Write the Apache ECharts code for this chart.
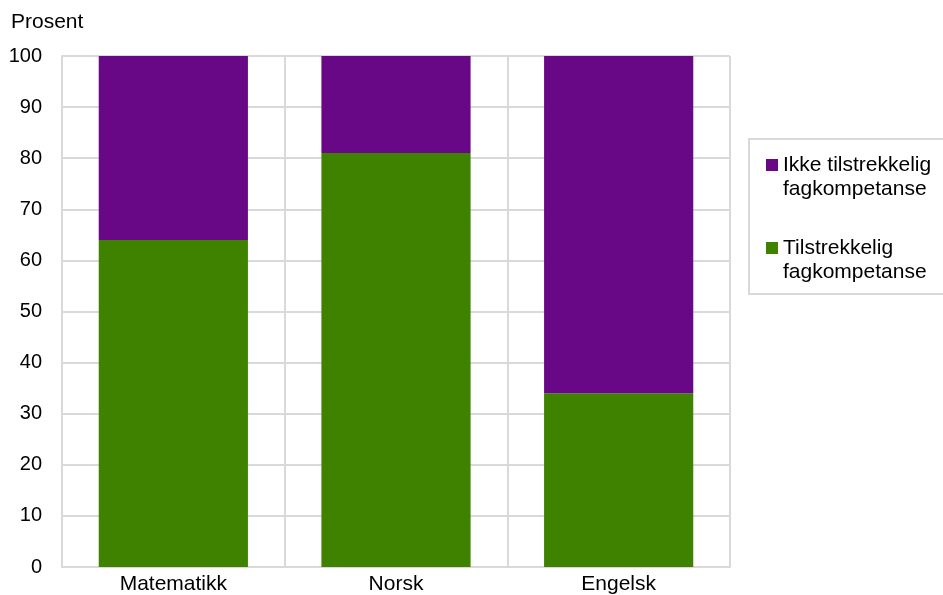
<!DOCTYPE html>
<html><head><meta charset="utf-8">
<script src="https://cdn.jsdelivr.net/npm/echarts@6/dist/echarts.min.js"></script>
<style>html,body{margin:0;padding:0;background:#fff}#c{width:943px;height:595px}</style>
</head><body><div id="c"></div>
<script>
var categories = ['Matematikk', 'Norsk', 'Engelsk'];
var tilstrekkelig = [64, 81, 34];
var ikkeTilstrekkelig = [36, 19, 66];
var seriesNames = ['Tilstrekkelig\nfagkompetanse', 'Ikke tilstrekkelig\nfagkompetanse'];
var yTicks = [0, 10, 20, 30, 40, 50, 60, 70, 80, 90, 100];

var font = 'Liberation Sans, Arial, sans-serif';
var chart = echarts.init(document.getElementById('c'), null, {renderer: 'canvas'});
chart.setOption({
  animation: false,
  title: {text: 'Prosent', left: 11, top: 12, padding: 0,
    textStyle: {fontSize: 21, fontWeight: 'normal', color: '#000', fontFamily: font}},
  grid: {left: 62, right: 213, top: 56, bottom: 28, containLabel: false},
  graphic: [{type: 'rect', left: 748, top: 138, z: 0,
    shape: {width: 210, height: 155},
    style: {fill: '#fff', stroke: '#d9d9d9', lineWidth: 2}}],
  legend: {
    orient: 'vertical', left: 766, top: 129, padding: 0, itemGap: 11,
    itemWidth: 12, itemHeight: 12, icon: 'rect',
    data: [seriesNames[1], seriesNames[0]],
    formatter: function (n) { return '\n' + n; },
    textStyle: {fontSize: 21, color: '#000', fontFamily: font, lineHeight: 24}
  },
  xAxis: {
    type: 'category', data: categories,
    axisLine: {show: true, lineStyle: {color: '#d9d9d9', width: 2}},
    axisTick: {show: false},
    splitLine: {show: true, lineStyle: {color: '#d9d9d9', width: 2}},
    axisLabel: {fontSize: 21, color: '#000', fontFamily: font, margin: 7}
  },
  yAxis: {
    type: 'value', min: 0, max: 100, interval: 10,
    axisLine: {show: true, lineStyle: {color: '#d9d9d9', width: 2}},
    axisTick: {show: false},
    splitLine: {show: true, lineStyle: {color: '#d9d9d9', width: 2}},
    axisLabel: {fontSize: 20, color: '#000', fontFamily: font, margin: 20,
      formatter: function (v) { return yTicks.indexOf(v) >= 0 ? String(v) : ''; }}
  },
  series: [
    {name: seriesNames[0], type: 'bar', stack: 'a', data: tilstrekkelig,
      barCategoryGap: '33%', itemStyle: {color: '#3e8200'}},
    {name: seriesNames[1], type: 'bar', stack: 'a', data: ikkeTilstrekkelig,
      barCategoryGap: '33%', itemStyle: {color: '#680886'}}
  ]
});
</script></body></html>
